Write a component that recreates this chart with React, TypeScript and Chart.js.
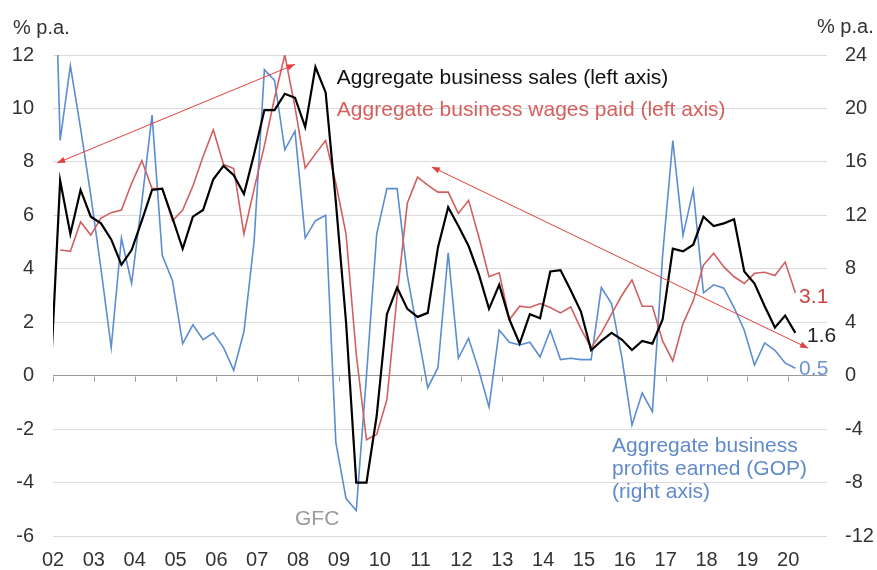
import React, { useEffect, useRef } from 'react';
import { Chart, registerables } from 'chart.js';

Chart.register(...registerables);

// Year tick labels (one tick at the start of each year)
const yearLabels = ['02', '03', '04', '05', '06', '07', '08', '09', '10', '11', '12', '13', '14', '15', '16', '17', '18', '19', '20'];

// Quarterly observations from 2001 Q4 to 2020 Q1 (first value sits just left of the plot edge)
const sales = [
  -0.5,
  7.3, 5.3, 6.95, 5.95,
  5.7, 5.1, 4.15, 4.7,
  5.8, 6.95, 7.0, 5.9,
  4.75, 5.95, 6.2, 7.35,
  7.85, 7.5, 6.8, 8.3,
  9.94, 9.94, 10.55, 10.4,
  9.3, 11.55, 10.6, 6.5,
  2.0, -4.0, -4.0, -1.5,
  2.3, 3.3, 2.5, 2.2,
  2.35, 4.8, 6.3, 5.6,
  4.85, 3.8, 2.5, 3.4,
  2.1, 1.2, 2.3, 2.15,
  3.9, 3.95, 3.2, 2.4,
  0.95, 1.3, 1.6, 1.35,
  0.96, 1.3, 1.2, 2.1,
  4.75, 4.65, 4.9, 5.95,
  5.6, 5.7, 5.85, 3.9,
  3.45, 2.6, 1.8, 2.25,
  1.6,
];

const wages = [
  null,
  4.7, 4.65, 5.75, 5.26,
  5.9, 6.1, 6.2, 7.2,
  8.05, 7.0, 7.0, 5.8,
  6.2, 7.1, 8.2, 9.2,
  7.9, 7.75, 5.3, 7.0,
  8.6, 10.4, 12.0, 10.05,
  7.77, 8.3, 8.8, 7.2,
  5.3, 0.8, -2.4, -2.2,
  -0.9, 3.0, 6.45, 7.43,
  7.13, 6.87, 6.87, 6.07,
  6.56, 5.2, 3.7, 3.85,
  2.1, 2.6, 2.55, 2.7,
  2.55, 2.35, 2.57, 1.75,
  1.05, 1.6, 2.3, 3.0,
  3.58, 2.6, 2.6, 1.3,
  0.55, 1.95, 2.8, 4.14,
  4.58, 4.07, 3.7, 3.45,
  3.83, 3.87, 3.75, 4.25,
  3.1,
];

const profits = [
  45,
  17.6, 23.2, 18.5, 13.5,
  8.0, 2.1, 10.3, 6.9,
  13.0, 19.5, 9.0, 7.1,
  2.4, 3.8, 2.7, 3.2,
  2.1, 0.4, 3.3, 10.1,
  22.9, 22.1, 16.9, 18.3,
  10.3, 11.6, 12.0, -5.0,
  -9.2, -10.1, 0.0, 10.6,
  14.0, 14.0, 7.5, 3.3,
  -0.9, 0.6, 9.2, 1.3,
  2.8, 0.4, -2.35, 3.4,
  2.5, 2.3, 2.5, 1.4,
  3.4, 1.2, 1.3, 1.2,
  1.2, 6.6, 5.4, 1.4,
  -3.7, -1.3, -2.7, 9.0,
  17.6, 10.5, 13.9, 6.2,
  6.8, 6.55, 5.1, 3.4,
  0.8, 2.45, 1.9, 0.95,
  0.55,
];

const FIRST_OBS_OFFSET = -0.3; // first observation position in quarters relative to the '02' tick
const FONT = '"Liberation Sans", Arial, sans-serif';

const RED_LINE = '#d0605f';
const BLUE_LINE = '#5b8dd0';

export default function App() {
  const ref = useRef<HTMLCanvasElement | null>(null);

  useEffect(() => {
    document.body.style.margin = '0';
    const canvas = ref.current;
    if (!canvas) return;

    const toPts = (arr: (number | null)[]) => arr.map((v, i) => ({ x: i + FIRST_OBS_OFFSET, y: v }));

    const annot = {
      id: 'annot',
      beforeDatasetsDraw(chart: any) {
        const ctx = chart.ctx;
        const xs = chart.scales.x;
        const yl = chart.scales.y;
        const y0 = Math.round(yl.getPixelForValue(0)) + 0.5;
        ctx.save();
        ctx.strokeStyle = '#9a9a9a';
        ctx.lineWidth = 1;
        xs.ticks.forEach((t: any) => {
          const px = Math.round(xs.getPixelForValue(t.value)) + 0.5;
          ctx.beginPath();
          ctx.moveTo(px, y0);
          ctx.lineTo(px, y0 + 5);
          ctx.stroke();
        });
        ctx.restore();
      },
      afterDatasetsDraw(chart: any) {
        const ctx = chart.ctx;
        const xs = chart.scales.x;
        const yl = chart.scales.y;
        const P = (x: number, y: number) => [xs.getPixelForValue(x), yl.getPixelForValue(y)];

        const head = (x1: number, y1: number, x2: number, y2: number) => {
          const a = Math.atan2(y2 - y1, x2 - x1);
          const L = 8, W = 3.2;
          ctx.beginPath();
          ctx.moveTo(x2, y2);
          ctx.lineTo(x2 - L * Math.cos(a) + W * Math.sin(a), y2 - L * Math.sin(a) - W * Math.cos(a));
          ctx.lineTo(x2 - L * Math.cos(a) - W * Math.sin(a), y2 - L * Math.sin(a) + W * Math.cos(a));
          ctx.closePath();
          ctx.fill();
        };
        const arrows = [
          [0.4, 7.96, 23.7, 11.65],
          [37.1, 7.81, 73.95, 1.03],
        ];
        ctx.save();
        ctx.strokeStyle = '#e2403c';
        ctx.fillStyle = '#e2403c';
        ctx.lineWidth = 1;
        arrows.forEach(([ax, ay, bx, by]) => {
          const [x1, y1] = P(ax, ay);
          const [x2, y2] = P(bx, by);
          ctx.beginPath();
          ctx.moveTo(x1, y1);
          ctx.lineTo(x2, y2);
          ctx.stroke();
          head(x1, y1, x2, y2);
          head(x2, y2, x1, y1);
        });
        ctx.restore();

        const texts: [string, number, number, string][] = [
          ['Aggregate business sales (left axis)', 27.8, 10.91, '#111111'],
          ['Aggregate business wages paid (left axis)', 27.8, 9.72, '#d4605e'],
          ['Aggregate business', 54.75, -2.86, '#5f8acb'],
          ['profits earned (GOP)', 54.75, -3.72, '#5f8acb'],
          ['(right axis)', 54.75, -4.58, '#5f8acb'],
          ['GFC', 23.7, -5.59, '#9a9a9a'],
          ['3.1', 73.07, 2.72, '#cc4444'],
          ['1.6', 73.85, 1.25, '#222222'],
          ['0.5', 73.07, 0.02, '#6d93d2'],
        ];
        ctx.save();
        ctx.font = `21px ${FONT}`;
        ctx.textAlign = 'left';
        ctx.textBaseline = 'alphabetic';
        texts.forEach(([t, x, y, c]) => {
          const [px, py] = P(x, y);
          ctx.fillStyle = c;
          ctx.fillText(t, px, py);
        });
        ctx.restore();

        // axis unit titles
        ctx.save();
        ctx.font = `20px ${FONT}`;
        ctx.fillStyle = '#333333';
        ctx.textBaseline = 'alphabetic';
        ctx.textAlign = 'left';
        ctx.fillText('% p.a.', 13, 34);
        ctx.fillText('% p.a.', 817, 33);
        ctx.restore();
      },
    };

    const chart = new Chart(canvas, {
      type: 'line',
      data: {
        datasets: [
          {
            label: 'Aggregate business sales (left axis)',
            data: toPts(sales),
            borderColor: '#000000',
            borderWidth: 2.2,
            pointRadius: 0,
            tension: 0,
            yAxisID: 'y',
          },
          {
            label: 'Aggregate business wages paid (left axis)',
            data: toPts(wages),
            borderColor: RED_LINE,
            borderWidth: 1.6,
            pointRadius: 0,
            tension: 0,
            yAxisID: 'y',
          },
          {
            label: 'Aggregate business profits earned (GOP) (right axis)',
            data: toPts(profits),
            borderColor: BLUE_LINE,
            borderWidth: 1.6,
            pointRadius: 0,
            tension: 0,
            yAxisID: 'y1',
          },
        ],
      },
      options: {
        responsive: false,
        animation: false,
        parsing: true,
        layout: { padding: { top: 55, left: 0, right: 0, bottom: 0 } },
        plugins: {
          legend: { display: false },
          tooltip: { enabled: false },
        },
        scales: {
          x: {
            type: 'linear',
            min: 0,
            max: 75.8,
            grid: { display: false, drawTicks: false },
            border: { display: false },
            ticks: {
              stepSize: 4,
              includeBounds: false,
              autoSkip: false,
              maxRotation: 0,
              padding: 12,
              color: '#333333',
              font: { size: 20, family: FONT },
              callback: (v: any) => {
                const idx = Math.round(Number(v) / 4);
                return yearLabels[idx] ?? '';
              },
            },
            afterFit: (s: any) => {
              s.height = 34;
            },
          },
          y: {
            position: 'left',
            min: -6,
            max: 12,
            ticks: {
              stepSize: 2,
              padding: 19,
              color: '#333333',
              font: { size: 20, family: FONT },
            },
            grid: {
              drawTicks: false,
              color: (c: any) => (c.tick && c.tick.value === 0 ? '#9a9a9a' : '#dcdcdc'),
              lineWidth: 1,
            },
            border: { display: false },
            afterFit: (s: any) => {
              s.width = 53;
            },
          },
          y1: {
            position: 'right',
            min: -12,
            max: 24,
            ticks: {
              stepSize: 4,
              padding: 18,
              color: '#333333',
              font: { size: 20, family: FONT },
            },
            grid: { display: false, drawTicks: false },
            border: { display: false },
            afterFit: (s: any) => {
              s.width = 50;
            },
          },
        },
      },
      plugins: [annot],
    });

    return () => chart.destroy();
  }, []);

  return <canvas ref={ref} width={877} height={570} style={{ display: 'block' }} />;
}
